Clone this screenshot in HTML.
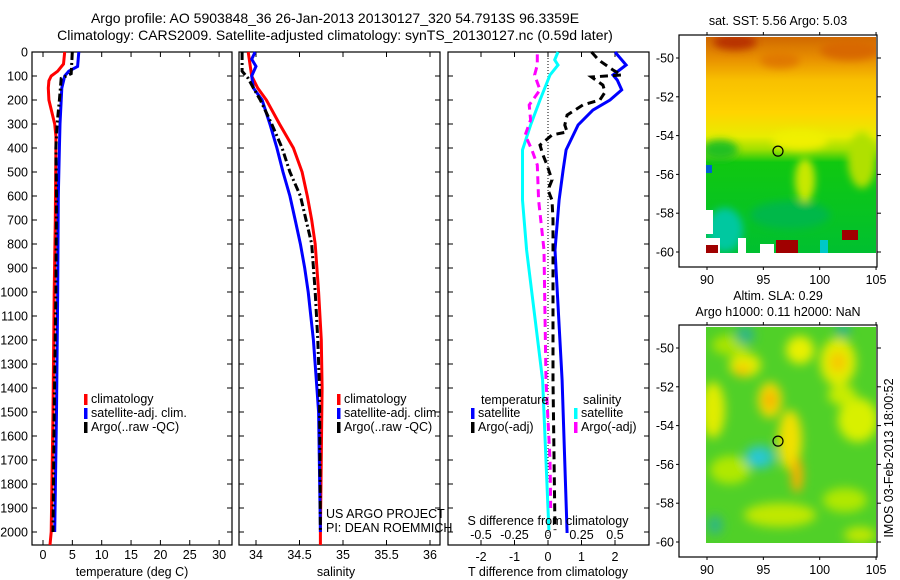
<!DOCTYPE html>
<html><head><meta charset="utf-8">
<style>
html,body{margin:0;padding:0;background:#fff;}
svg{display:block;font-family:"Liberation Sans",sans-serif;}
text{font-size:12.5px;fill:#000;}
</style></head>
<body>
<svg id="fig" width="900" height="580" viewBox="0 0 900 580" xmlns="http://www.w3.org/2000/svg">
<defs>
<filter id="blur1" x="-20%" y="-20%" width="140%" height="140%"><feGaussianBlur stdDeviation="4"/></filter>
<filter id="blur2" x="-20%" y="-20%" width="140%" height="140%"><feGaussianBlur stdDeviation="5"/></filter>
<clipPath id="clipA"><rect x="706" y="37" width="170" height="216"/></clipPath>
<clipPath id="clipB"><rect x="706" y="327" width="170" height="216"/></clipPath>
<linearGradient id="sstgrad" x1="0" y1="0" x2="0" y2="1">
<stop offset="0" stop-color="#d06800"/><stop offset="0.1" stop-color="#e89000"/>
<stop offset="0.2" stop-color="#f8c000"/><stop offset="0.35" stop-color="#ffd400"/>
<stop offset="0.46" stop-color="#e8ec00"/><stop offset="0.52" stop-color="#a0e000"/>
<stop offset="0.58" stop-color="#10c810"/>
<stop offset="1" stop-color="#00c030"/></linearGradient>
</defs>
<text x="335" y="23" text-anchor="middle" style="font-size:14px">Argo profile: AO 5903848_36 26-Jan-2013 20130127_320 54.7913S 96.3359E</text>
<text x="335" y="40" text-anchor="middle" style="font-size:14px">Climatology: CARS2009. Satellite-adjusted climatology: synTS_20130127.nc (0.59d later)</text>
<g id="p1"></g>
<g id="p2"></g>
<g id="p3"></g>
<g id="m1">
<text x="778" y="25" text-anchor="middle">sat. SST: 5.56 Argo: 5.03</text>
<g clip-path="url(#clipA)">
<rect x="706" y="37" width="170" height="216" fill="url(#sstgrad)"/>
<g filter="url(#blur1)">
<ellipse cx="735" cy="42" rx="22" ry="8" fill="#b83000"/>
<ellipse cx="850" cy="50" rx="30" ry="10" fill="#d86800"/>
<ellipse cx="780" cy="60" rx="20" ry="8" fill="#e07800"/>
<ellipse cx="800" cy="140" rx="28" ry="10" fill="#f0f000"/>
<ellipse cx="805" cy="180" rx="10" ry="22" fill="#c8e800"/>
<ellipse cx="720" cy="150" rx="18" ry="10" fill="#20c020"/>
<ellipse cx="862" cy="160" rx="14" ry="28" fill="#b0e000"/>
<ellipse cx="725" cy="230" rx="18" ry="22" fill="#00c8a0"/>
<ellipse cx="790" cy="215" rx="40" ry="14" fill="#00b848"/>
</g>
<rect x="706" y="238" width="14" height="15" fill="#fff"/>
<rect x="706" y="210" width="7" height="24" fill="#fff"/>
<rect x="738" y="238" width="8" height="15" fill="#fff"/>
<rect x="760" y="244" width="14" height="9" fill="#fff"/>
<rect x="706" y="245" width="12" height="8" fill="#a00000"/>
<rect x="776" y="240" width="22" height="13" fill="#a00000"/>
<rect x="842" y="230" width="16" height="10" fill="#a00000"/>
<rect x="820" y="240" width="8" height="13" fill="#00c8c8"/>
<rect x="706" y="165" width="6" height="8" fill="#0060d0"/>
</g>
</g>
<g id="m2">
<text x="778" y="300" text-anchor="middle">Altim. SLA: 0.29</text>
<text x="778" y="316" text-anchor="middle">Argo h1000: 0.11 h2000: NaN</text>
<g clip-path="url(#clipB)">
<rect x="706" y="327" width="170" height="216" fill="#50d028"/>
<g filter="url(#blur2)">
<ellipse cx="730" cy="345" rx="18" ry="10" fill="#a8e400"/>
<ellipse cx="745" cy="365" rx="16" ry="12" fill="#e0ec00"/>
<ellipse cx="742" cy="370" rx="8" ry="6" fill="#f8c800"/>
<ellipse cx="800" cy="350" rx="14" ry="14" fill="#e8f000"/>
<ellipse cx="838" cy="362" rx="18" ry="24" fill="#e0ec00"/>
<ellipse cx="838" cy="362" rx="8" ry="10" fill="#f8c800"/>
<ellipse cx="770" cy="400" rx="12" ry="18" fill="#f0d800"/>
<ellipse cx="770" cy="400" rx="5" ry="8" fill="#f8a800"/>
<ellipse cx="790" cy="440" rx="12" ry="30" fill="#f0e000"/>
<ellipse cx="797" cy="475" rx="6" ry="18" fill="#f8b000"/>
<ellipse cx="713" cy="410" rx="12" ry="28" fill="#e0ec00"/>
<ellipse cx="858" cy="420" rx="20" ry="22" fill="#d8f000"/>
<ellipse cx="842" cy="395" rx="14" ry="10" fill="#c8ec00"/>
<ellipse cx="730" cy="470" rx="20" ry="14" fill="#b0e800"/>
<ellipse cx="760" cy="457" rx="16" ry="12" fill="#30c8b0"/>
<ellipse cx="758" cy="458" rx="7" ry="6" fill="#20c8e0"/>
<ellipse cx="745" cy="335" rx="10" ry="10" fill="#30b880"/>
<ellipse cx="843" cy="330" rx="8" ry="8" fill="#30b880"/>
<ellipse cx="715" cy="525" rx="8" ry="10" fill="#30b880"/>
<ellipse cx="780" cy="515" rx="36" ry="12" fill="#c0e800"/>
<ellipse cx="845" cy="500" rx="22" ry="12" fill="#b0e800"/>
<ellipse cx="860" cy="535" rx="16" ry="8" fill="#c0e800"/>
</g>
</g>
<text transform="translate(893,458) rotate(-90)" text-anchor="middle">IMOS 03-Feb-2013 18:00:52</text>
</g>
<script>
// ---------- data ----------
const depthTicks=[0,100,200,300,400,500,600,700,800,900,1000,1100,1200,1300,1400,1500,1600,1700,1800,1900,2000];
const tempTicks=[0,5,10,15,20,25,30];
const salTicks=[34,34.5,35,35.5,36];
const tdiffTicks=[-2,-1,0,1,2];
const sdiffTicks=[-0.5,-0.25,0,0.25,0.5];
const latTicks=[-50,-52,-54,-56,-58,-60];
const lonTicks=[90,95,100,105];

const climTD=[0,50,80,100,120,150,200,250,300,350,400,700,1000,1500,2000,2054];
const climT=[3.7,3.5,2.5,1.4,1.0,0.9,1.0,1.5,2.0,2.2,2.2,2.1,1.9,1.7,1.4,1.2];
const satTD=[0,60,80,100,150,300,400,600,1000,1500,2000];
const satT=[6.1,5.9,4.4,3.7,3.2,2.9,2.8,2.6,2.5,2.3,2.0];
const argoTD=[0,90,110,200,300,400,600,1000,1500,2000];
const argoT=[5.0,4.8,3.1,2.8,2.4,2.2,2.3,2.2,1.9,1.7];

const climSD=[0,100,150,200,300,400,500,600,700,800,1000,1200,1400,2000,2054];
const climS=[33.91,33.95,34.02,34.12,34.27,34.43,34.53,34.59,34.64,34.68,34.72,34.75,34.76,34.74,34.74];
const satSD=[0,30,60,100,150,200,300,400,500,600,700,800,900,1000,1200,1400,1500,2000];
const satS=[33.99,33.95,34.0,33.95,33.97,34.07,34.16,34.24,34.31,34.39,34.45,34.51,34.56,34.6,34.66,34.7,34.72,34.74];
const argoSD=[0,80,110,150,200,300,400,500,600,800,1000,1200,1400,2000];
const argoS=[33.84,33.84,33.91,33.97,34.05,34.18,34.3,34.39,34.51,34.64,34.68,34.71,34.73,34.74];

const dTsatD=[0,54,96,117,158,200,242,304,408,492,617,825,1367,2004];
const dTsat=[2.0,2.33,1.94,2.07,2.2,1.85,1.34,0.9,0.54,0.45,0.33,0.21,0.42,0.57];
const dTargoD=[0,25,42,75,96,104,138,167,200,221,263,304,333,346,388,429,471,533,575,617,700,825,1367,1992];
const dTargo=[1.3,1.46,1.6,1.94,2.2,1.3,1.64,1.7,1.55,1.04,0.57,0.5,0.57,0.12,-0.24,-0.15,-0.03,0.12,0.0,0.12,0.15,0.15,0.15,0.21];
const dSsatD=[0,33,54,96,200,304,408,617,825,1367,1992];
const dSsat=[0.075,0.05,0.075,0.015,-0.06,-0.13,-0.19,-0.19,-0.16,-0.04,0.007];
const dSargoD=[10,54,96,158,221,283,346,408,471,617,825,1367,1700,1900];
const dSargo=[-0.08,-0.08,-0.1,-0.06,-0.14,-0.13,-0.17,-0.12,-0.08,-0.07,-0.03,-0.015,0.015,0.02];

const floatLon=96.3, floatLat=-54.8;

// ---------- scales ----------
const Y0=52, PXD=0.24;
function yD(d){return Y0+d*PXD;}
function xT(t){return 43+t*5.87;}
function xS(s){return 256+(s-34)*87;}
function xDT(t){return 548+t*33.5;}
function xDS(s){return 548+s*4*33.5;}
function xLon(l){return 707+(l-90)*11.27;}
function yLatA(l){return 58+(-50-l)*19.4;}
function yLatB(l){return 348+(-50-l)*19.4;}

const NS='http://www.w3.org/2000/svg';
function mk(tag,attrs,parent){const e=document.createElementNS(NS,tag);for(const k in attrs)e.setAttribute(k,attrs[k]);parent.appendChild(e);return e;}

function box(g,x0,y0,x1,y1){
  const r=mk('rect',{x:x0,y:y0,width:x1-x0,height:y1-y0,fill:'none',stroke:'#000','stroke-width':1.2},g);
  
  
}
function depthAxis(g,x0,x1,labels){
  depthTicks.forEach(d=>{
    const y=yD(d);
    mk('line',{x1:x0,y1:y,x2:x0+5,y2:y,stroke:'#000'},g);
    mk('line',{x1:x1-5,y1:y,x2:x1,y2:y,stroke:'#000'},g);
    if(labels){const t=mk('text',{x:x0-4,y:y+4.5,'text-anchor':'end'},g);t.textContent=d;
      
      }
  });
}
function xAxis(g,ticks,fx,y0,y1,ly){
  ticks.forEach(v=>{const x=fx(v);
    mk('line',{x1:x,y1:y1,x2:x,y2:y1-5,stroke:'#000'},g);
    mk('line',{x1:x,y1:y0,x2:x,y2:y0+5,stroke:'#000'},g);
    if(ly){const t=mk('text',{x:x,y:ly,'text-anchor':'middle'},g);t.textContent=v;
      
      }
  });
}
function line(g,ds,vs,fx,color,w,dash,name){
  const pts=ds.map((d,i)=>fx(vs[i]).toFixed(1)+','+yD(d).toFixed(1)).join(' ');
  const p=mk('polyline',{points:pts,fill:'none',stroke:color,'stroke-width':w},g);
  if(dash)p.setAttribute('stroke-dasharray',dash);
  
  
}
function legend(g,x,y,items){
  items.forEach((it,i)=>{
    const yy=y+i*14;
    mk('rect',{x:x,y:yy-9,width:3.5,height:11,fill:it[0]},g);
    const t=mk('text',{x:x+7,y:yy},g);t.textContent=it[1];
    
    
  });
}
function label(g,x,y,s,anchor,name){const t=mk('text',{x:x,y:y,'text-anchor':anchor||'start'},g);t.textContent=s;
  
  }

const YB=545;
// panel 1
const p1=document.getElementById('p1');
box(p1,32,Y0,232,YB); depthAxis(p1,32,232,true);
xAxis(p1,tempTicks,xT,Y0,YB,559);
line(p1,climTD,climT,xT,'#ff0000',3,null,'climatology-temp-line');
line(p1,satTD,satT,xT,'#0000ff',3,null,'satellite-temp-line');
line(p1,argoTD,argoT,xT,'#000000',3,'8,3,2,3','argo-temp-line');
legend(p1,84,403,[['#ff0000','climatology'],['#0000ff','satellite-adj. clim.'],['#000000','Argo(..raw -QC)']]);
label(p1,132,576,'temperature (deg C)','middle','temperature-axis-title');
// panel 2
const p2=document.getElementById('p2');
box(p2,239,Y0,440,YB); depthAxis(p2,239,440,false);
xAxis(p2,salTicks,xS,Y0,YB,559);
line(p2,climSD,climS,xS,'#ff0000',3,null,'climatology-salinity-line');
line(p2,satSD,satS,xS,'#0000ff',3,null,'satellite-salinity-line');
line(p2,argoSD,argoS,xS,'#000000',3,'8,3,2,3','argo-salinity-line');
legend(p2,337,403,[['#ff0000','climatology'],['#0000ff','satellite-adj. clim.'],['#000000','Argo(..raw -QC)']]);
label(p2,326,518,'US ARGO PROJECT','start','us-argo-project-label');
label(p2,326,532,'PI: DEAN ROEMMICH','start','pi-label');
label(p2,336,576,'salinity','middle','salinity-axis-title');
// panel 3
const p3=document.getElementById('p3');
box(p3,448,Y0,649,YB); depthAxis(p3,448,649,false);
xAxis(p3,tdiffTicks,xDT,Y0,YB,561);
mk('line',{x1:xDT(0),y1:Y0,x2:xDT(0),y2:YB,stroke:'#000','stroke-dasharray':'1,2'},p3);
line(p3,dSsatD,dSsat,xDS,'#00ffff',3,null,'salinity-satellite-diff-line');
line(p3,dSargoD,dSargo,xDS,'#ff00ff',3,'8,5','salinity-argo-diff-line');
line(p3,dTsatD,dTsat,xDT,'#0000ff',3,null,'temperature-satellite-diff-line');
line(p3,dTargoD,dTargo,xDT,'#000000',3,'8,5','temperature-argo-diff-line');
label(p3,481,404,'temperature','start','legend-temperature-title');
label(p3,583,404,'salinity','start','legend-salinity-title');
legend(p3,471,417,[['#0000ff','satellite'],['#000000','Argo(-adj)']]);
legend(p3,574,417,[['#00ffff','satellite'],['#ff00ff','Argo(-adj)']]);
label(p3,548,525,'S difference from climatology','middle','s-diff-axis-title');
sdiffTicks.forEach(v=>{const t=mk('text',{x:xDS(v),y:539,'text-anchor':'middle'},p3);t.textContent=v;
  
  });
label(p3,548,576,'T difference from climatology','middle','t-diff-axis-title');

// maps
function mapAxes(g,yTop,yBot,fy){
  box(g,679,yTop,877,yBot);
  latTicks.forEach(l=>{const y=fy(l);
    mk('line',{x1:877,y1:y,x2:881,y2:y,stroke:'#000'},g);
    mk('line',{x1:676,y1:y,x2:679,y2:y,stroke:'#000'},g);
    const t=mk('text',{x:674,y:y+4.5,'text-anchor':'end'},g);t.textContent=l;
    
    });
  lonTicks.forEach(l=>{const x=xLon(l);
    mk('line',{x1:x,y1:yTop,x2:x,y2:yTop-3,stroke:'#000'},g);
    mk('line',{x1:x,y1:yBot,x2:x,y2:yBot+3,stroke:'#000'},g);
    const t=mk('text',{x:x,y:yBot+17,'text-anchor':'middle'},g);t.textContent=l;
    
    });
}
const m1=document.getElementById('m1'),m2=document.getElementById('m2');
mapAxes(m1,35,267,yLatA); mapAxes(m2,325,557,yLatB);
const c1=mk('circle',{cx:xLon(floatLon),cy:yLatA(floatLat),r:5,fill:'none',stroke:'#000','stroke-width':1.2},m1);


const c2=mk('circle',{cx:xLon(floatLon),cy:yLatB(floatLat),r:5,fill:'none',stroke:'#000','stroke-width':1.2},m2);


</script>
</svg>
</body></html>
